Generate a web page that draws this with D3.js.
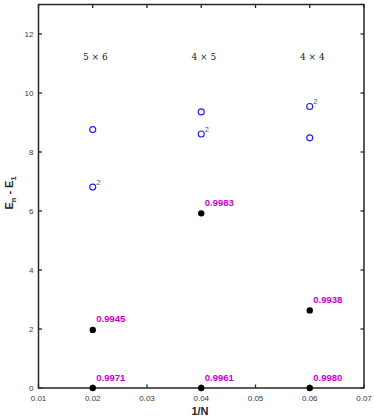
<!DOCTYPE html>
<html><head><meta charset="utf-8">
<script src="https://cdn.jsdelivr.net/npm/d3@7"></script>
<style>body{margin:0;background:#fff}svg{display:block}</style>
</head><body><svg id="c" width="374" height="418"></svg>
<script>
// Data
const xTicks = [0.01,0.02,0.03,0.04,0.05,0.06,0.07];
const yTicks = [0,2,4,6,8,10,12];
const latticeX = [0.02,0.04,0.06];
const latticeLabels = ["5 \u00d7 6","4 \u00d7 5","4 \u00d7 4"];
const openX = [0.02,0.02,0.04,0.04,0.06,0.06];
const openY = [8.76,6.81,9.36,8.61,9.54,8.48];
const openTag = ["","2","","2","2",""];
const dotX = [0.02,0.02,0.04,0.04,0.06,0.06];
const dotY = [1.97,0.0,5.92,0.0,2.63,0.0];
const dotLabel = ["0.9945","0.9971","0.9983","0.9961","0.9938","0.9980"];

const svg = d3.select("#c");
const L=38.5, R=364, T=4.5, B=388;
const x = d3.scaleLinear().domain([0.01,0.07]).range([L,R]);
const y = d3.scaleLinear().domain([0,13]).range([B,T]);
const axisCol="#262626";
const sans="Liberation Sans, Arial, sans-serif";

const g = svg.append("g");
xTicks.forEach(t=>{
  g.append("line").attr("x1",x(t)).attr("x2",x(t)).attr("y1",B).attr("y2",B-3.5).attr("stroke",axisCol).attr("stroke-width",1.3);
  g.append("line").attr("x1",x(t)).attr("x2",x(t)).attr("y1",T).attr("y2",T+3.5).attr("stroke",axisCol).attr("stroke-width",1.3);
  g.append("text").attr("x",x(t)).attr("y",B+12.5).attr("text-anchor","middle")
    .attr("font-family",sans).attr("font-size",8).attr("fill","#3a3a3a").text(d3.format(".2f")(t));
});
yTicks.forEach(t=>{
  g.append("line").attr("x1",L).attr("x2",L+3.5).attr("y1",y(t)).attr("y2",y(t)).attr("stroke",axisCol).attr("stroke-width",1.3);
  g.append("line").attr("x1",R).attr("x2",R-3.5).attr("y1",y(t)).attr("y2",y(t)).attr("stroke",axisCol).attr("stroke-width",1.3);
  g.append("text").attr("x",L-5).attr("y",y(t)+3).attr("text-anchor","end")
    .attr("font-family",sans).attr("font-size",8).attr("fill","#3a3a3a").text(t);
});
svg.append("rect").attr("x",L).attr("y",T).attr("width",R-L).attr("height",B-T)
  .attr("fill","none").attr("stroke",axisCol).attr("stroke-width",1.5);

// axis labels
svg.append("text").attr("x",200).attr("y",415).attr("text-anchor","middle")
  .attr("font-family",sans).attr("font-size",11).attr("font-weight","bold").attr("fill","#262626").text("1/N");
const yl = svg.append("text").attr("transform",`translate(13,193) rotate(-90)`).attr("text-anchor","middle")
  .attr("font-family",sans).attr("font-size",11).attr("font-weight","bold").attr("fill","#262626");
yl.append("tspan").text("E");
yl.append("tspan").attr("font-size",7.5).attr("dy",3).text("n");
yl.append("tspan").attr("dy",-3).text(" - E");
yl.append("tspan").attr("font-size",7.5).attr("dy",3).text("1");

// lattice labels
latticeX.forEach((v,i)=>{
  svg.append("text").attr("x",x(v)+2.5).attr("y",y(11.25)+3.5).attr("text-anchor","middle")
    .attr("font-family","DejaVu Serif, serif").attr("font-size",9).attr("fill","#222").text(latticeLabels[i]);
});

// open circles
openX.forEach((v,i)=>{
  svg.append("circle").attr("cx",x(v)).attr("cy",y(openY[i])).attr("r",3).attr("fill","none").attr("stroke","#1a1aff").attr("stroke-width",1.1);
  if(openTag[i]) svg.append("text").attr("x",x(v)+3.5).attr("y",y(openY[i])-2.5)
    .attr("font-family",sans).attr("font-size",7.5).attr("fill","#555").text(openTag[i]);
});

// filled dots
dotX.forEach((v,i)=>{
  svg.append("circle").attr("cx",x(v)).attr("cy",y(dotY[i])).attr("r",3.2).attr("fill","#000");
  svg.append("text").attr("x",x(v)+3.5).attr("y",y(dotY[i])-7.5)
    .attr("font-family",sans).attr("font-size",9.5).attr("font-weight","bold").attr("fill","#cc00cc").text(dotLabel[i]);
});
</script></body></html>
